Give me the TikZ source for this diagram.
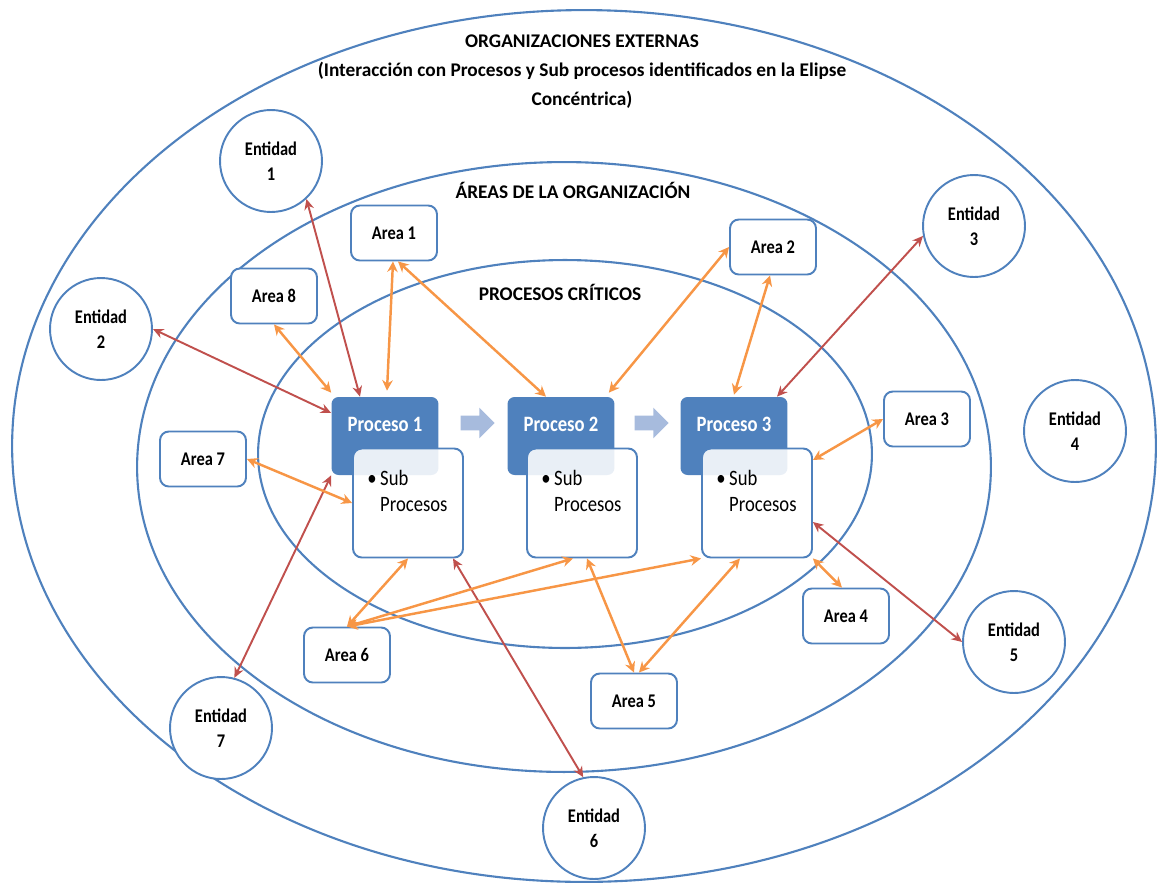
\documentclass[tikz,border=0pt]{standalone}
\usepackage{fontspec}
\setmainfont{Carlito}[FakeStretch=0.85]
\newfontfamily\titlefont{Carlito}
\usetikzlibrary{arrows.meta,shapes.arrows,calc}
\definecolor{eblue}{RGB}{79,129,189}
\definecolor{ered}{RGB}{192,80,77}
\definecolor{eorange}{RGB}{247,150,70}
\definecolor{barrow}{RGB}{167,187,221}
\begin{document}
\begin{tikzpicture}[x=0.02cm,y=-0.02cm,
  ell/.style={draw=eblue,line width=1.2pt},
  ent/.style={circle,draw=eblue,line width=1.1pt,fill=white,minimum size=2.04cm,inner sep=0pt,align=center,font=\fontsize{11}{14.3}\selectfont\bfseries},
  area/.style={rectangle,rounded corners=5pt,draw=eblue,line width=1.1pt,fill=white,minimum width=1.72cm,minimum height=1.1cm,inner sep=0pt,font=\fontsize{11}{13}\selectfont\bfseries},
  procbox/.style={rectangle,rounded corners=4pt,fill=eblue,minimum width=2.14cm,minimum height=1.56cm,inner sep=0pt},
  proclbl/.style={text=white,inner sep=0pt,font=\fontsize{12.5}{15}\selectfont\bfseries},
  subbox/.style={rectangle,rounded corners=5pt,draw=eblue,line width=1.1pt,fill=white,fill opacity=0.88,text opacity=1,minimum width=2.2cm,minimum height=2.18cm,inner sep=0pt},
  sublbl/.style={anchor=north west,inner sep=0pt,font=\fontsize{12.5}{15}\selectfont},
  blockarrow/.style={single arrow,fill=barrow,inner sep=0.14cm,single arrow head extend=0.16cm,minimum height=0.68cm},
  title/.style={inner sep=0pt,align=center,font=\titlefont\fontsize{11}{16.5}\selectfont\bfseries},
  redc/.style={draw=ered,line width=1.1pt,{Stealth[length=6pt,width=5.5pt]}-{Stealth[length=6pt,width=5.5pt]}},
  orc/.style={draw=eorange,line width=1.4pt,{Stealth[length=6pt,width=6pt]}-{Stealth[length=6pt,width=6pt]}}
]
\useasboundingbox (0,0) rectangle (1160,893);
% concentric ellipses
\draw[ell] (584,446) ellipse [x radius=11.44cm, y radius=8.72cm];
\draw[ell] (564,467) ellipse [x radius=8.54cm, y radius=6.1cm];
\draw[ell] (565,454) ellipse [x radius=6.14cm, y radius=3.88cm];
% titles
\node[title] (tOrg) at (582,72) {ORGANIZACIONES EXTERNAS\\(Interacción con Procesos y Sub procesos identificados en la Elipse\\Concéntrica)};
\node[title] (tAreas) at (573,190) {ÁREAS DE LA ORGANIZACIÓN};
\node[title] (tProc) at (560,292) {PROCESOS CRÍTICOS};
% entities
\node[ent] (ent1) at (271,161) {Entidad\\1};
\node[ent] (ent2) at (101,329) {Entidad\\2};
\node[ent] (ent3) at (974,226) {Entidad\\3};
\node[ent] (ent4) at (1075,431) {Entidad\\4};
\node[ent] (ent5) at (1014,642) {Entidad\\5};
\node[ent] (ent6) at (594,828) {Entidad\\6};
\node[ent] (ent7) at (221,728) {Entidad\\7};
% areas
\node[area] (a1) at (394,233) {Area 1};
\node[area] (a2) at (773,247) {Area 2};
\node[area] (a3) at (927,419) {Area 3};
\node[area] (a4) at (846,616) {Area 4};
\node[area] (a5) at (634,701) {Area 5};
\node[area] (a6) at (347,655) {Area 6};
\node[area] (a7) at (203,459) {Area 7};
\node[area] (a8) at (274,296) {Area 8};
% processes
\node[procbox] (p1) at (385,436) {};
\node[procbox] (p2) at (561,436) {};
\node[procbox] (p3) at (734,436) {};
\node[proclbl] (p1t) at (385,424) {Proceso 1};
\node[proclbl] (p2t) at (561,424) {Proceso 2};
\node[proclbl] (p3t) at (734,424) {Proceso 3};
\node[blockarrow] (arr1) at (474,423) {};
\node[blockarrow] (arr2) at (648,423) {};
\node[subbox] (s1) at (408,503) {};
\node[subbox] (s2) at (582,503) {};
\node[subbox] (s3) at (757,503) {};
\foreach \s in {s1,s2,s3}{
  \node[sublbl] (\s t) at ($(\s.north west)+(15,19)$) {\begin{tabular}{@{}l@{\hspace{2pt}}l@{}}\textbullet & Sub\\ & Procesos\end{tabular}};
}
% red connectors (external entities)
\draw[redc] (ent1.-47) -- ($(p1.north)+(-25,0)$);
\draw[redc] (ent2.east) -- ($(p1.west)+(0,-23)$);
\draw[redc] (ent3.191) -- ($(p3.north)+(43,0)$);
\draw[redc] (ent5.west) -- ($(s3.east)+(0,19)$);
\draw[redc] (ent6.102) -- ($(s1.south)+(45,0)$);
\draw[redc] (ent7.75) -- (p1.south west);
% orange connectors (areas)
\draw[orc] ($(a1.south)+(-1,0)$) -- ($(p1.north)+(2,-6)$);
\draw[orc] ($(a1.south)+(4,0)$) -- ($(p2.north)+(-15,0)$);
\draw[orc] (a8.south) -- ($(p1.north west)+(0,-4)$);
\draw[orc] (a2.west) -- ($(p2.north east)+(-6,-4)$);
\draw[orc] ($(a2.south)+(-3,0)$) -- ($(p3.north)+(0,-2)$);
\draw[orc] (a7.east) -- (s1.west);
\draw[orc] (a3.west) -- ($(s3.east)+(0,-43)$);
\draw[orc] ($(a4.north)+(-4,0)$) -- (s3.south east);
\draw[orc] (a6.north) -- (s1.south);
\draw[orc] (a6.north) -- ($(s2.south)+(-9,0)$);
\draw[orc] (a6.north) -- (s3.south west);
\draw[orc] (a5.north) -- ($(s2.south)+(5,0)$);
\draw[orc] ($(a5.north)+(5,0)$) -- ($(s3.south)+(-17,0)$);
\end{tikzpicture}
\end{document}
